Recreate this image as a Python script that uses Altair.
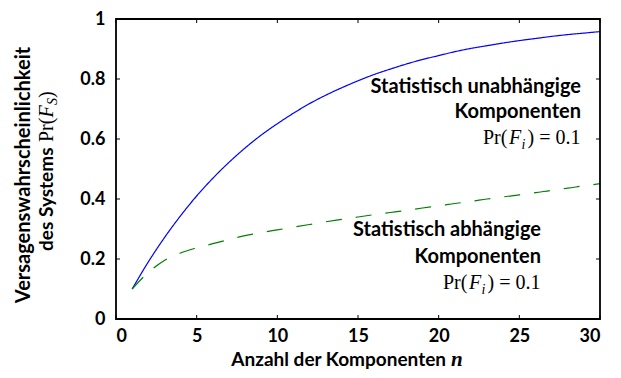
import altair as alt
import pandas as pd

# ---- data ----
n_values = list(range(1, 31))
p_independent = [0.10, 0.19, 0.271, 0.344, 0.41, 0.469, 0.522, 0.570, 0.613, 0.651,
                 0.686, 0.718, 0.746, 0.771, 0.794, 0.815, 0.833, 0.850, 0.865, 0.878,
                 0.891, 0.902, 0.911, 0.920, 0.928, 0.935, 0.942, 0.948, 0.953, 0.958]
p_dependent = [0.10, 0.155, 0.195, 0.22, 0.237, 0.251, 0.265, 0.278, 0.288, 0.297,
               0.306, 0.315, 0.324, 0.332, 0.340, 0.348, 0.355, 0.362, 0.370, 0.377,
               0.385, 0.392, 0.400, 0.407, 0.414, 0.421, 0.429, 0.436, 0.444, 0.451]
series_names = ["unabhängig", "abhängig"]
series_colors = ["#0000ff", "#008000"]
x_ticks = [0, 5, 10, 15, 20, 25, 30]
y_ticks = [0, 0.2, 0.4, 0.6, 0.8, 1.0]

W, H = 484, 300
SANS = "Lato"
SERIF = "Liberation Serif"

df = pd.DataFrame({
    "n": n_values * 2,
    "p": p_independent + p_dependent,
    "series": [series_names[0]] * len(n_values) + [series_names[1]] * len(n_values),
})
xt = pd.DataFrame({"n": x_ticks})
yt = pd.DataFrame({"p": y_ticks})

xscale = alt.Scale(domain=[0, 30], nice=False, zero=False)
yscale = alt.Scale(domain=[0, 1], nice=False)
xaxis = alt.Axis(values=x_ticks, format="d", ticks=False, domain=False, grid=False,
                 labelFont=SANS, labelFontWeight="bold", labelFontSize=18,
                 labelColor="black", labelPadding=8, title=None)
yaxis = alt.Axis(values=y_ticks, format="~g", ticks=False, domain=False, grid=False,
                 labelFont=SANS, labelFontWeight="bold", labelFontSize=18,
                 labelColor="black", labelPadding=11, title=None)

lines = alt.Chart(df).mark_line(strokeWidth=1.2, interpolate="monotone").encode(
    x=alt.X("n:Q", scale=xscale, axis=xaxis),
    y=alt.Y("p:Q", scale=yscale, axis=yaxis),
    color=alt.Color("series:N", scale=alt.Scale(domain=series_names, range=series_colors), legend=None),
    strokeDash=alt.StrokeDash("series:N", scale=alt.Scale(domain=series_names, range=[[1, 0], [16, 14]]), legend=None),
    detail="series:N",
)

tick_len = 4
xt_bottom = alt.Chart(xt).mark_rule(color="black", strokeWidth=1).encode(
    x=alt.X("n:Q", scale=xscale, axis=xaxis), y=alt.value(H), y2=alt.value(H - tick_len))
xt_top = alt.Chart(xt).mark_rule(color="black", strokeWidth=1).encode(
    x=alt.X("n:Q", scale=xscale, axis=xaxis), y=alt.value(0), y2=alt.value(tick_len))
yt_left = alt.Chart(yt).mark_rule(color="black", strokeWidth=1).encode(
    y=alt.Y("p:Q", scale=yscale, axis=yaxis), x=alt.value(0), x2=alt.value(tick_len))
yt_right = alt.Chart(yt).mark_rule(color="black", strokeWidth=1).encode(
    y=alt.Y("p:Q", scale=yscale, axis=yaxis), x=alt.value(W), x2=alt.value(W - tick_len))

one = alt.Data(values=[{"k": 1}])

frame = alt.Chart(one).mark_rect(fill=None, fillOpacity=0, stroke="black", strokeWidth=1.8).encode(
    x=alt.value(0), x2=alt.value(W), y=alt.value(0), y2=alt.value(H))


def txt(s, x, y, font=SANS, size=20, weight="bold", style="normal", align="left", angle=0):
    return alt.Chart(one).mark_text(
        font=font, fontSize=size, fontWeight=weight, fontStyle=style,
        align=align, baseline="alphabetic", angle=angle, color="black",
    ).encode(text=alt.value(s), x=alt.value(x), y=alt.value(y))


def pr_label(R, y, sub):
    return [
        txt("Pr(", R - 98, y, font=SERIF, size=20, weight="normal"),
        txt("F", R - 72, y, font=SERIF, size=20, weight="normal", style="italic"),
        txt(sub, R - 59.5, y + 5, font=SERIF, size=14, weight="normal", style="italic"),
        txt(") = 0.1", R - 53.5, y, font=SERIF, size=20, weight="normal"),
    ]


texts = []
# upper annotation
R1 = 465
texts += [txt("Statistisch unabhängige", R1, 74, align="right"),
          txt("Komponenten", R1, 99, align="right")]
texts += pr_label(R1, 125, "i")
# lower annotation
R2 = 425
texts += [txt("Statistisch abhängige", R2, 217, align="right"),
          txt("Komponenten", R2, 243.5, align="right")]
texts += pr_label(R2, 269.5, "i")

# x-axis title
texts += [txt("Anzahl der Komponenten", 330, 347, size=19, align="right"),
          txt("n", 335, 347, font=SERIF, size=21, weight="bold", style="italic")]

# y-axis title (rotated)
texts += [txt("Versagenswahrscheinlichkeit", -86, 156, size=20, align="center", angle=270),
          txt("des Systems", -63, 128.5, size=19, align="right", angle=270),
          txt("Pr(", -63, 123, font=SERIF, size=20, weight="normal", angle=270),
          txt("F", -63, 98.5, font=SERIF, size=20, weight="normal", style="italic", angle=270),
          txt("S", -59, 86, font=SERIF, size=14, weight="normal", style="italic", angle=270),
          txt(")", -63, 79, font=SERIF, size=20, weight="normal", angle=270)]

chart = alt.layer(lines, xt_bottom, xt_top, yt_left, yt_right, frame, *texts).properties(
    width=W, height=H,
    autosize="none",
    background="white",
    padding={"left": 108, "top": 11, "right": 10, "bottom": 56},
).configure_view(stroke=None)

chart.save("out.html", embed_options={"renderer": "svg", "actions": False})
